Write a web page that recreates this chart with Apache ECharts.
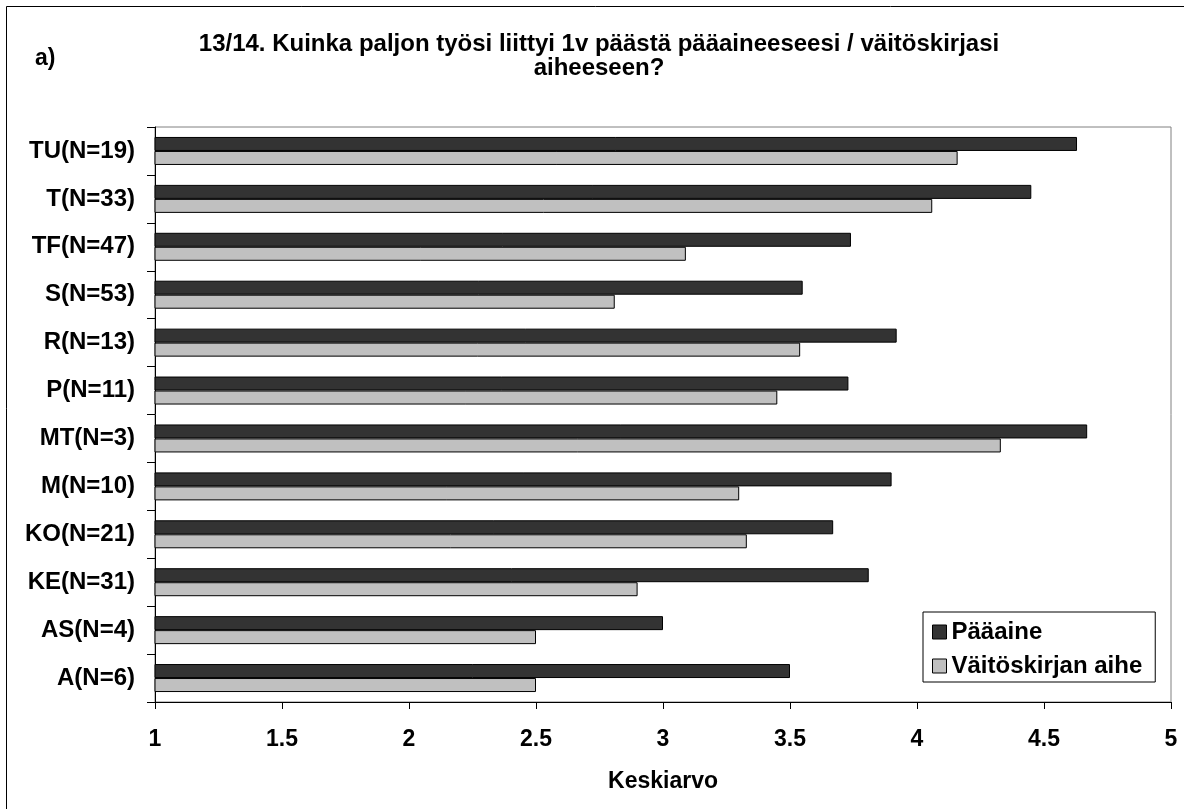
<!DOCTYPE html>
<html>
<head>
<meta charset="utf-8">
<script src="https://cdn.jsdelivr.net/npm/echarts@6/dist/echarts.min.js"></script>
<style>
  html, body { margin: 0; padding: 0; background: #fff; }
  #chart { width: 1184px; height: 809px; }
</style>
</head>
<body>
<div id="chart"></div>
<script>
// luokat alhaalta ylos
const categories = ["A(N=6)", "AS(N=4)", "KE(N=31)", "KO(N=21)", "M(N=10)", "MT(N=3)",
  "P(N=11)", "R(N=13)", "S(N=53)", "TF(N=47)", "T(N=33)", "TU(N=19)"];
const paaaine = [3.5, 3.0, 3.81, 3.67, 3.9, 4.67, 3.73, 3.92, 3.55, 3.74, 4.45, 4.63];
const vaitoskirja = [2.5, 2.5, 2.9, 3.33, 3.3, 4.33, 3.45, 3.54, 2.81, 3.09, 4.06, 4.16];
const xTicks = [1, 1.5, 2, 2.5, 3, 3.5, 4, 4.5, 5];

const FONT = "'Liberation Sans', Arial, sans-serif";

const chart = echarts.init(document.getElementById("chart"));

const option = {
  backgroundColor: "#fff",
  animation: false,
  graphic: [
    {
      type: "rect",
      shape: { x: 6.5, y: 6.5, width: 1250, height: 900 },
      style: { fill: "none", stroke: "#000", lineWidth: 1 },
      silent: true,
    },
    {
      type: "text",
      x: 35,
      y: 59,
      style: {
        text: "a)",
        fontFamily: FONT,
        fontWeight: "bold",
        fontSize: 23,
        fill: "#000",
        verticalAlign: "middle",
      },
    },
    {
      type: "text",
      x: 599,
      y: 32,
      style: {
        text: "13/14. Kuinka paljon työsi liittyi 1v päästä pääaineeseesi / väitöskirjasi\naiheeseen?",
        fontFamily: FONT,
        fontWeight: "bold",
        fontSize: 24,
        lineHeight: 24,
        fill: "#000",
        align: "center",
        verticalAlign: "top",
      },
    },
  ],
  legend: {
    data: ["Pääaine", "Väitöskirjan aihe"],
    orient: "vertical",
    left: 923,
    top: 612,
    padding: [8, 13, 4, 9],
    itemGap: 10,
    itemWidth: 14,
    itemHeight: 14,
    icon: "rect",
    backgroundColor: "#fff",
    borderColor: "#000",
    borderWidth: 1,
    itemStyle: { borderColor: "#000", borderWidth: 1 },
    textStyle: {
      fontFamily: FONT,
      fontWeight: "bold",
      fontSize: 24,
      lineHeight: 24,
      color: "#000",
    },
  },
  grid: {
    left: 155,
    right: 13,
    top: 127,
    bottom: 107,
    show: true,
    borderColor: "#808080",
    borderWidth: 1,
  },
  xAxis: {
    type: "value",
    min: 1,
    max: 5,
    interval: 0.5,
    name: "Keskiarvo",
    nameLocation: "middle",
    nameGap: 68,
    nameTextStyle: {
      fontFamily: FONT,
      fontWeight: "bold",
      fontSize: 23,
      color: "#000",
    },
    axisLine: { show: true, lineStyle: { color: "#000", width: 1 } },
    axisTick: { show: true, inside: false, length: 7, lineStyle: { color: "#000" } },
    splitLine: { show: false },
    axisLabel: {
      margin: 26,
      fontFamily: FONT,
      fontWeight: "bold",
      fontSize: 23,
      color: "#000",
      formatter: (v) => (xTicks.indexOf(v) >= 0 ? String(v) : ""),
    },
  },
  yAxis: {
    type: "category",
    data: categories,
    axisLine: { show: true, lineStyle: { color: "#000", width: 1 } },
    axisTick: { show: true, inside: false, length: 8, lineStyle: { color: "#000" } },
    axisLabel: {
      margin: 20,
      fontFamily: FONT,
      fontWeight: "bold",
      fontSize: 24,
      color: "#000",
    },
  },
  series: [
    {
      name: "Pääaine",
      type: "bar",
      data: paaaine,
      barWidth: 14,
      barGap: "0%",
      itemStyle: { color: "#333333", borderColor: "#000", borderWidth: 1 },
    },
    {
      name: "Väitöskirjan aihe",
      type: "bar",
      data: vaitoskirja,
      barWidth: 14,
      barGap: "0%",
      itemStyle: { color: "#c0c0c0", borderColor: "#000", borderWidth: 1 },
    },
  ],
};

chart.setOption(option);
</script>
</body>
</html>
